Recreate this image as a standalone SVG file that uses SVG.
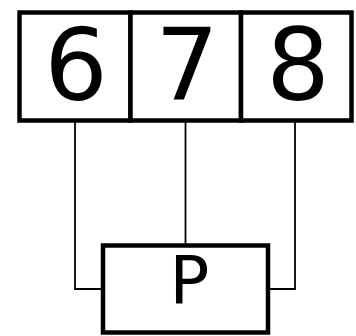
<svg xmlns="http://www.w3.org/2000/svg" width="356" height="336" viewBox="0 0 356 336">
<style>
.box{fill:#fff;stroke:#000;stroke-width:4.5}
.wire{fill:none;stroke:#000;stroke-width:1.8}
.t{font-family:"DejaVu Sans",sans-serif;fill:#000}
</style>
<rect width="356" height="336" fill="#fff"/>
<g id="connectors">
<path class="wire" d="M75,121 V289 H103"/>
<path class="wire" d="M185.5,121 V246"/>
<path class="wire" d="M295,121 V289 H268"/>
</g>
<g id="cell6">
<rect class="box" x="19.5" y="12.5" width="111" height="108"/>
<text class="t" x="76" y="100" font-size="100" text-anchor="middle">6</text>
</g>
<g id="cell7">
<rect class="box" x="130.5" y="12.5" width="110.5" height="108"/>
<text class="t" x="187" y="100" font-size="100" text-anchor="middle">7</text>
</g>
<g id="cell8">
<rect class="box" x="241" y="12.5" width="110.5" height="108"/>
<text class="t" x="298" y="100" font-size="100" text-anchor="middle">8</text>
</g>
<g id="P">
<rect class="box" x="103" y="245.5" width="165" height="87"/>
<text class="t" x="169.5" y="303" font-size="66">P</text>
</g>
</svg>
